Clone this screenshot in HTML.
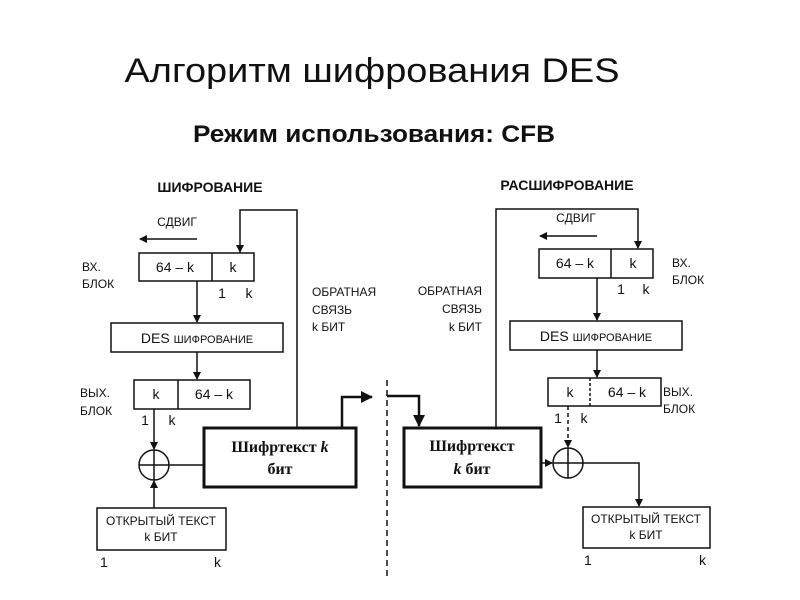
<!DOCTYPE html>
<html><head><meta charset="utf-8"><style>
html,body{margin:0;padding:0;background:#fff;}
svg{display:block;}
text{font-family:"Liberation Sans",sans-serif;fill:#111;}
.s{font-size:12px;}
.m{font-size:14px;}
.sf{font-family:"Liberation Serif",serif;font-weight:bold;font-size:16px;}
</style></head><body>
<svg width="800" height="600" viewBox="0 0 800 600" xmlns="http://www.w3.org/2000/svg">
<defs>
<marker id="a" markerWidth="8" markerHeight="8" refX="7" refY="4" orient="auto" markerUnits="userSpaceOnUse"><path d="M0,0 L8,4 L0,8 z" fill="#111"/></marker>
<marker id="b" markerWidth="12" markerHeight="12" refX="11" refY="6" orient="auto" markerUnits="userSpaceOnUse"><path d="M0,0 L12,6 L0,12 z" fill="#111"/></marker>
</defs>
<text x="372" y="82" text-anchor="middle" font-size="34" textLength="495" lengthAdjust="spacingAndGlyphs">Алгоритм шифрования DES</text>
<text x="374" y="142" text-anchor="middle" font-size="24" font-weight="bold" textLength="362" lengthAdjust="spacingAndGlyphs">Режим использования: CFB</text>

<g stroke="#111" fill="none" stroke-width="1.5">
<!-- LEFT -->
<polyline points="297,427 297,210 240,210 240,252" marker-end="url(#a)"/>
<line x1="197" y1="239" x2="140" y2="239" marker-end="url(#a)"/>
<rect x="139" y="253" width="115" height="28"/><line x1="212" y1="253" x2="212" y2="281"/>
<line x1="197" y1="281" x2="197" y2="322" marker-end="url(#a)"/>
<rect x="111" y="323" width="172" height="29"/>
<line x1="197" y1="352" x2="197" y2="379" marker-end="url(#a)"/>
<rect x="134" y="380" width="116" height="29"/><line x1="178" y1="380" x2="178" y2="409"/>
<line x1="154" y1="409" x2="154" y2="449" marker-end="url(#a)"/>
<circle cx="154" cy="465" r="15"/><line x1="139" y1="465" x2="169" y2="465"/><line x1="154" y1="450" x2="154" y2="480"/>
<line x1="169" y1="465" x2="203" y2="465"/>
<line x1="154" y1="508" x2="154" y2="481" marker-end="url(#a)"/>
<rect x="97" y="508" width="129" height="42"/>
<rect x="204" y="428" width="152" height="59" stroke-width="3"/>
<polyline points="342,427 342,397 372,397" stroke-width="2.5" marker-end="url(#b)"/>
<line x1="387" y1="380" x2="387" y2="580" stroke-dasharray="6,4"/>
<!-- RIGHT -->
<polyline points="496,427 496,209 638,209 638,248" marker-end="url(#a)"/>
<line x1="597" y1="236" x2="540" y2="236" marker-end="url(#a)"/>
<rect x="539" y="249" width="114" height="29"/><line x1="611" y1="249" x2="611" y2="278"/>
<line x1="597" y1="278" x2="597" y2="320" marker-end="url(#a)"/>
<rect x="510" y="321" width="172" height="29"/>
<line x1="597" y1="350" x2="597" y2="377" marker-end="url(#a)"/>
<rect x="548" y="378" width="113" height="28"/><line x1="590" y1="378" x2="590" y2="406" stroke-dasharray="3,2"/>
<line x1="568" y1="406" x2="568" y2="447" stroke-dasharray="4,3" marker-end="url(#a)"/>
<circle cx="568" cy="463" r="15"/><line x1="553" y1="463" x2="583" y2="463"/><line x1="568" y1="448" x2="568" y2="478"/>
<line x1="542" y1="463" x2="552" y2="463" marker-end="url(#a)"/>
<polyline points="583,463 639,463 639,506" marker-end="url(#a)"/>
<rect x="583" y="507" width="127" height="41"/>
<rect x="404" y="428" width="137" height="59" stroke-width="3"/>
<polyline points="387,396 419,396 419,426" stroke-width="2.5" marker-end="url(#b)"/>
</g>

<text class="m" x="210" y="192" text-anchor="middle" font-weight="bold">ШИФРОВАНИЕ</text>
<text class="s" x="177" y="226" text-anchor="middle">СДВИГ</text>
<text class="m" x="175" y="272" text-anchor="middle">64 – k</text>
<text class="m" x="233" y="272" text-anchor="middle">k</text>
<text class="s" x="82" y="271">ВХ.</text><text class="s" x="82" y="288">БЛОК</text>
<text class="m" x="222" y="298" text-anchor="middle">1</text><text class="m" x="249" y="298" text-anchor="middle">k</text>
<text class="m" x="197" y="343" text-anchor="middle">DES <tspan font-size="11">ШИФРОВАНИЕ</tspan></text>
<text class="m" x="156" y="399" text-anchor="middle">k</text>
<text class="m" x="214" y="399" text-anchor="middle">64 – k</text>
<text class="s" x="80" y="397">ВЫХ.</text><text class="s" x="80" y="415">БЛОК</text>
<text class="m" x="145" y="425" text-anchor="middle">1</text><text class="m" x="172" y="425" text-anchor="middle">k</text>
<text class="sf" x="280" y="452" text-anchor="middle">Шифртекст <tspan font-style="italic">k</tspan></text>
<text class="sf" x="280" y="474" text-anchor="middle">бит</text>
<text class="s" x="161" y="525" text-anchor="middle">ОТКРЫТЫЙ ТЕКСТ</text>
<text class="s" x="161" y="541" text-anchor="middle">k БИТ</text>
<text class="m" x="100" y="567">1</text><text class="m" x="214" y="567">k</text>
<text class="s" x="312" y="296">ОБРАТНАЯ</text><text class="s" x="312" y="314">СВЯЗЬ</text><text class="s" x="312" y="331">k БИТ</text>

<text class="m" x="567" y="190" text-anchor="middle" font-weight="bold">РАСШИФРОВАНИЕ</text>
<text class="s" x="576" y="222" text-anchor="middle">СДВИГ</text>
<text class="m" x="575" y="268" text-anchor="middle">64 – k</text>
<text class="m" x="633" y="268" text-anchor="middle">k</text>
<text class="s" x="672" y="267">ВХ.</text><text class="s" x="672" y="284">БЛОК</text>
<text class="m" x="621" y="294" text-anchor="middle">1</text><text class="m" x="646" y="294" text-anchor="middle">k</text>
<text class="m" x="596" y="341" text-anchor="middle">DES <tspan font-size="11">ШИФРОВАНИЕ</tspan></text>
<text class="m" x="570" y="397" text-anchor="middle">k</text>
<text class="m" x="627" y="397" text-anchor="middle">64 – k</text>
<text class="s" x="663" y="396">ВЫХ.</text><text class="s" x="663" y="413">БЛОК</text>
<text class="m" x="558" y="423" text-anchor="middle">1</text><text class="m" x="584" y="423" text-anchor="middle">k</text>
<text class="sf" x="472" y="451" text-anchor="middle">Шифртекст</text>
<text class="sf" x="472" y="474" text-anchor="middle"><tspan font-style="italic">k</tspan> бит</text>
<text class="s" x="646" y="523" text-anchor="middle">ОТКРЫТЫЙ ТЕКСТ</text>
<text class="s" x="646" y="539" text-anchor="middle">k БИТ</text>
<text class="m" x="584" y="565">1</text><text class="m" x="699" y="565">k</text>
<text class="s" x="482" y="295" text-anchor="end">ОБРАТНАЯ</text><text class="s" x="482" y="313" text-anchor="end">СВЯЗЬ</text><text class="s" x="482" y="331" text-anchor="end">k БИТ</text>
</svg>
</body></html>
